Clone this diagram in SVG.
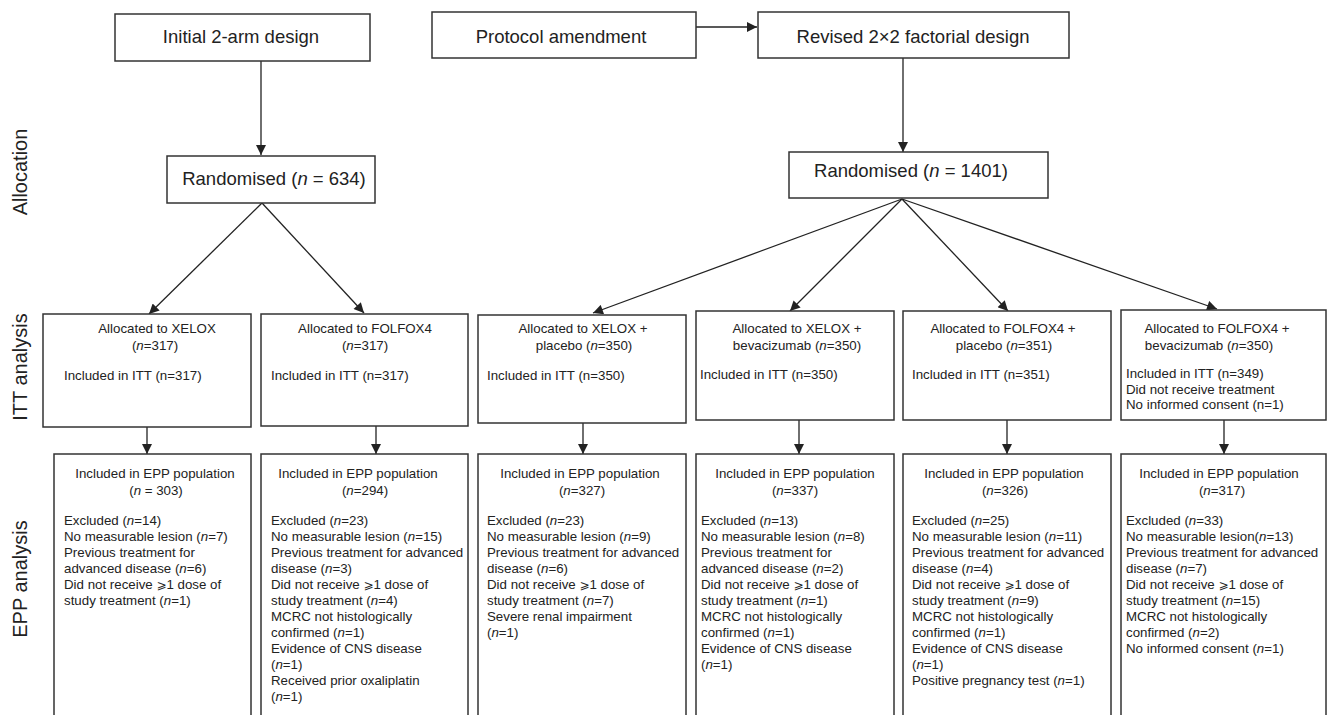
<svg xmlns="http://www.w3.org/2000/svg" width="1328" height="715" viewBox="0 0 1328 715">
<style>
.box{fill:#fff;stroke:#333;stroke-width:1.5}
.t{font-family:"Liberation Sans",Arial,"DejaVu Sans",sans-serif;fill:#222}
.top{font-size:18.5px}
.s{font-size:13.3px}
.lab{font-size:20px}
.c{text-anchor:middle}
.i{font-style:italic}
.ge{font-family:"DejaVu Sans",sans-serif;font-size:12px}
.con{stroke:#222;stroke-width:1.3;fill:none}
</style>
<defs>
<marker id="ah" viewBox="0 0 10 10" refX="10" refY="5" markerUnits="userSpaceOnUse" markerWidth="12" markerHeight="10" orient="auto">
<path d="M0,0 L10,5 L0,10 z" fill="#222"/>
</marker>
</defs>
<rect width="1328" height="715" fill="#fff"/>

<g id="stage-labels" class="t lab">
<text class="c" transform="translate(27,172) rotate(-90)">Allocation</text>
<text class="c" transform="translate(27,367) rotate(-90)">ITT analysis</text>
<text class="c" transform="translate(27,579) rotate(-90)">EPP analysis</text>
</g>

<g id="connectors" class="con">
<line x1="261" y1="61" x2="261" y2="155" marker-end="url(#ah)"/>
<line x1="696" y1="27" x2="757" y2="27" marker-end="url(#ah)"/>
<line x1="903" y1="58" x2="903" y2="152" marker-end="url(#ah)"/>
<line x1="262" y1="203" x2="149" y2="314" marker-end="url(#ah)"/>
<line x1="262" y1="203" x2="364" y2="313" marker-end="url(#ah)"/>
<line x1="902" y1="199" x2="593" y2="313" marker-end="url(#ah)"/>
<line x1="902" y1="199" x2="790" y2="311" marker-end="url(#ah)"/>
<line x1="902" y1="199" x2="1008" y2="311" marker-end="url(#ah)"/>
<line x1="902" y1="199" x2="1217" y2="309" marker-end="url(#ah)"/>
<line x1="147" y1="427" x2="147" y2="454" marker-end="url(#ah)"/>
<line x1="376" y1="426" x2="376" y2="454" marker-end="url(#ah)"/>
<line x1="583" y1="423" x2="583" y2="454" marker-end="url(#ah)"/>
<line x1="799" y1="420" x2="799" y2="454" marker-end="url(#ah)"/>
<line x1="1007" y1="420" x2="1007" y2="454" marker-end="url(#ah)"/>
<line x1="1224" y1="420" x2="1224" y2="454" marker-end="url(#ah)"/>
</g>

<g id="initial-design">
<rect class="box" x="115" y="14" width="255" height="47"/>
<text class="t top c" x="241" y="43">Initial 2-arm design</text>
</g>
<g id="protocol-amendment">
<rect class="box" x="432" y="12" width="264" height="46"/>
<text class="t top c" x="561" y="43">Protocol amendment</text>
</g>
<g id="revised-design">
<rect class="box" x="758" y="12" width="311" height="46"/>
<text class="t top c" x="913" y="43">Revised 2×2 factorial design</text>
</g>
<g id="randomised-634">
<rect class="box" x="167" y="156" width="208" height="47"/>
<text class="t top c" x="274" y="185">Randomised (<tspan class="i">n</tspan> = 634)</text>
</g>
<g id="randomised-1401">
<rect class="box" x="789" y="152" width="259" height="46"/>
<text class="t top c" x="911" y="177">Randomised (<tspan class="i">n</tspan> = 1401)</text>
</g>

<g id="itt-xelox">
<rect class="box" x="43" y="314" width="208" height="113"/>
<text class="t s c" x="157" y="333">Allocated to XELOX</text>
<text class="t s c" x="155" y="350">(<tspan class="i">n</tspan>=317)</text>
<text class="t s" x="64" y="380">Included in ITT (n=317)</text>
</g>
<g id="itt-folfox4">
<rect class="box" x="261" y="314" width="207" height="112"/>
<text class="t s c" x="365" y="333">Allocated to FOLFOX4</text>
<text class="t s c" x="365" y="350">(<tspan class="i">n</tspan>=317)</text>
<text class="t s" x="271" y="380">Included in ITT (n=317)</text>
</g>
<g id="itt-xelox-placebo">
<rect class="box" x="478" y="315" width="208" height="108"/>
<text class="t s c" x="583" y="333">Allocated to XELOX +</text>
<text class="t s c" x="584" y="350">placebo (<tspan class="i">n</tspan>=350)</text>
<text class="t s" x="487" y="380">Included in ITT (n=350)</text>
</g>
<g id="itt-xelox-bev">
<rect class="box" x="696" y="311" width="198" height="109"/>
<text class="t s c" x="797" y="333">Allocated to XELOX +</text>
<text class="t s c" x="797" y="350">bevacizumab (<tspan class="i">n</tspan>=350)</text>
<text class="t s" x="700" y="379">Included in ITT (n=350)</text>
</g>
<g id="itt-folfox4-placebo">
<rect class="box" x="903" y="311" width="208" height="109"/>
<text class="t s c" x="1003" y="333">Allocated to FOLFOX4 +</text>
<text class="t s c" x="1004" y="350">placebo (<tspan class="i">n</tspan>=351)</text>
<text class="t s" x="912" y="379">Included in ITT (n=351)</text>
</g>
<g id="itt-folfox4-bev">
<rect class="box" x="1121" y="310" width="205" height="110"/>
<text class="t s c" x="1217" y="333">Allocated to FOLFOX4 +</text>
<text class="t s c" x="1209" y="350">bevacizumab (<tspan class="i">n</tspan>=350)</text>
<text class="t s" x="1126" y="378">Included in ITT (n=349)</text>
<text class="t s" x="1126" y="394">Did not receive treatment</text>
<text class="t s" x="1126" y="409">No informed consent (n=1)</text>
</g>

<g id="epp-xelox">
<rect class="box" x="54" y="454" width="197" height="270"/>
<text class="t s c" x="155" y="478">Included in EPP population</text>
<text class="t s c" x="156" y="495">(<tspan class="i">n</tspan> = 303)</text>
<text class="t s" x="64" y="525">Excluded (<tspan class="i">n</tspan>=14)</text>
<text class="t s" x="64" y="541">No measurable lesion (<tspan class="i">n</tspan>=7)</text>
<text class="t s" x="64" y="557">Previous treatment for</text>
<text class="t s" x="64" y="573">advanced disease (<tspan class="i">n</tspan>=6)</text>
<text class="t s" x="64" y="589">Did not receive <tspan class="ge">⩾</tspan>1 dose of</text>
<text class="t s" x="64" y="605">study treatment (<tspan class="i">n</tspan>=1)</text>
</g>
<g id="epp-folfox4">
<rect class="box" x="261" y="454" width="207" height="270"/>
<text class="t s c" x="358" y="478">Included in EPP population</text>
<text class="t s c" x="365" y="495">(<tspan class="i">n</tspan>=294)</text>
<text class="t s" x="271" y="525">Excluded (<tspan class="i">n</tspan>=23)</text>
<text class="t s" x="271" y="541">No measurable lesion (<tspan class="i">n</tspan>=15)</text>
<text class="t s" x="271" y="557">Previous treatment for advanced</text>
<text class="t s" x="271" y="573">disease (<tspan class="i">n</tspan>=3)</text>
<text class="t s" x="271" y="589">Did not receive <tspan class="ge">⩾</tspan>1 dose of</text>
<text class="t s" x="271" y="605">study treatment (<tspan class="i">n</tspan>=4)</text>
<text class="t s" x="271" y="621">MCRC not histologically</text>
<text class="t s" x="271" y="637">confirmed (<tspan class="i">n</tspan>=1)</text>
<text class="t s" x="271" y="653">Evidence of CNS disease</text>
<text class="t s" x="271" y="669">(<tspan class="i">n</tspan>=1)</text>
<text class="t s" x="271" y="685">Received prior oxaliplatin</text>
<text class="t s" x="271" y="701">(<tspan class="i">n</tspan>=1)</text>
</g>
<g id="epp-xelox-placebo">
<rect class="box" x="478" y="454" width="208" height="270"/>
<text class="t s c" x="580" y="478">Included in EPP population</text>
<text class="t s c" x="582" y="495">(<tspan class="i">n</tspan>=327)</text>
<text class="t s" x="487" y="525">Excluded (<tspan class="i">n</tspan>=23)</text>
<text class="t s" x="487" y="541">No measurable lesion (<tspan class="i">n</tspan>=9)</text>
<text class="t s" x="487" y="557">Previous treatment for advanced</text>
<text class="t s" x="487" y="573">disease (<tspan class="i">n</tspan>=6)</text>
<text class="t s" x="487" y="589">Did not receive <tspan class="ge">⩾</tspan>1 dose of</text>
<text class="t s" x="487" y="605">study treatment (<tspan class="i">n</tspan>=7)</text>
<text class="t s" x="487" y="621">Severe renal impairment</text>
<text class="t s" x="487" y="637">(<tspan class="i">n</tspan>=1)</text>
</g>
<g id="epp-xelox-bev">
<rect class="box" x="696" y="454" width="198" height="270"/>
<text class="t s c" x="795" y="478">Included in EPP population</text>
<text class="t s c" x="795" y="495">(<tspan class="i">n</tspan>=337)</text>
<text class="t s" x="701" y="525">Excluded (<tspan class="i">n</tspan>=13)</text>
<text class="t s" x="701" y="541">No measurable lesion (<tspan class="i">n</tspan>=8)</text>
<text class="t s" x="701" y="557">Previous treatment for</text>
<text class="t s" x="701" y="573">advanced disease (<tspan class="i">n</tspan>=2)</text>
<text class="t s" x="701" y="589">Did not receive <tspan class="ge">⩾</tspan>1 dose of</text>
<text class="t s" x="701" y="605">study treatment (<tspan class="i">n</tspan>=1)</text>
<text class="t s" x="701" y="621">MCRC not histologically</text>
<text class="t s" x="701" y="637">confirmed (<tspan class="i">n</tspan>=1)</text>
<text class="t s" x="701" y="653">Evidence of CNS disease</text>
<text class="t s" x="701" y="669">(<tspan class="i">n</tspan>=1)</text>
</g>
<g id="epp-folfox4-placebo">
<rect class="box" x="903" y="454" width="208" height="270"/>
<text class="t s c" x="1004" y="478">Included in EPP population</text>
<text class="t s c" x="1005" y="495">(<tspan class="i">n</tspan>=326)</text>
<text class="t s" x="912" y="525">Excluded (<tspan class="i">n</tspan>=25)</text>
<text class="t s" x="912" y="541">No measurable lesion (<tspan class="i">n</tspan>=11)</text>
<text class="t s" x="912" y="557">Previous treatment for advanced</text>
<text class="t s" x="912" y="573">disease (<tspan class="i">n</tspan>=4)</text>
<text class="t s" x="912" y="589">Did not receive <tspan class="ge">⩾</tspan>1 dose of</text>
<text class="t s" x="912" y="605">study treatment (<tspan class="i">n</tspan>=9)</text>
<text class="t s" x="912" y="621">MCRC not histologically</text>
<text class="t s" x="912" y="637">confirmed (<tspan class="i">n</tspan>=1)</text>
<text class="t s" x="912" y="653">Evidence of CNS disease</text>
<text class="t s" x="912" y="669">(<tspan class="i">n</tspan>=1)</text>
<text class="t s" x="912" y="685">Positive pregnancy test (<tspan class="i">n</tspan>=1)</text>
</g>
<g id="epp-folfox4-bev">
<rect class="box" x="1121" y="454" width="205" height="270"/>
<text class="t s c" x="1219" y="478">Included in EPP population</text>
<text class="t s c" x="1222" y="495">(<tspan class="i">n</tspan>=317)</text>
<text class="t s" x="1126" y="525">Excluded (<tspan class="i">n</tspan>=33)</text>
<text class="t s" x="1126" y="541">No measurable lesion(<tspan class="i">n</tspan>=13)</text>
<text class="t s" x="1126" y="557">Previous treatment for advanced</text>
<text class="t s" x="1126" y="573">disease (<tspan class="i">n</tspan>=7)</text>
<text class="t s" x="1126" y="589">Did not receive <tspan class="ge">⩾</tspan>1 dose of</text>
<text class="t s" x="1126" y="605">study treatment (<tspan class="i">n</tspan>=15)</text>
<text class="t s" x="1126" y="621">MCRC not histologically</text>
<text class="t s" x="1126" y="637">confirmed (<tspan class="i">n</tspan>=2)</text>
<text class="t s" x="1126" y="653">No informed consent (<tspan class="i">n</tspan>=1)</text>
</g>
</svg>
